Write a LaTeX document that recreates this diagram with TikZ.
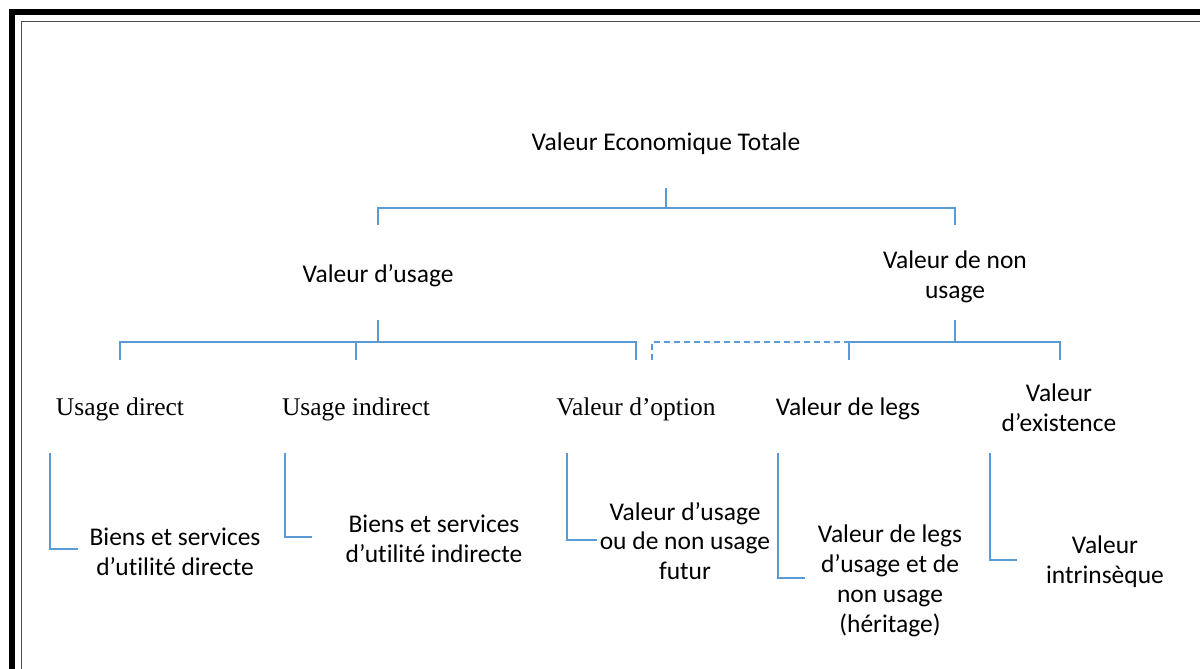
\documentclass[tikz,border=0pt]{standalone}
\usepackage{fontspec}
\setmainfont{Carlito}[Ligatures=NoCommon]
\newfontfamily\serifnom{Liberation Serif}
\usetikzlibrary{calc}

\tikzset{
  link/.style={draw=linkblue,line width=0.85pt},
  lbl/.style={align=center,inner sep=0pt,font=\fontsize{14.5}{17}\selectfont},
  lblserif/.style={lbl,font=\fontsize{14.5}{17}\selectfont\serifnom}
}
\definecolor{linkblue}{RGB}{91,155,213}
\definecolor{framegray}{RGB}{80,80,80}

\begin{document}
\begin{tikzpicture}[x=0.02cm,y=-0.02cm]
    % page and frame
    \useasboundingbox (0,0) rectangle (1200,669);
    \fill[white] (0,0) rectangle (1200,669);
    \begin{scope}
      \clip (0,0) rectangle (1200,669);
      \draw[line width=3.4pt] (12,12) rectangle (1240,720);
      \draw[framegray,line width=1.1pt] (21.5,21.5) rectangle (1230,710);
    \end{scope}

    % level 1 and 2
    \node (vet) at (666,144) [lbl]{Valeur Economique Totale};
    \node (vu) at (378,276) [lbl]{Valeur d’usage};
    \node (vnu) at (955,277) [lbl]{Valeur de non\\usage};

    % level 3
    \node (ud) at (120,409) [lblserif]{Usage direct};
    \node (ui) at (356,409) [lblserif]{Usage indirect};
    \node (vo) at (636,409) [lblserif]{Valeur d’option};
    \node (vl) at (848,409) [lbl]{Valeur de legs};
    \node (ve) at (1059,408) [lbl]{Valeur\\d’existence};

    % level 4
    \node (bsd) at (175,552) [lbl]{Biens et services\\d’utilité directe};
    \node (bsi) at (434,539) [lbl]{Biens et services\\d’utilité indirecte};
    \node (vuf) at (685,541) [lbl]{Valeur d’usage\\ou de non usage\\futur};
    \node (vlh) at (890,581) [lbl]{Valeur de legs\\d’usage et de\\non usage\\(héritage)};
    \node (vin) at (1105,562) [lbl]{Valeur\\intrinsèque};

    % tree
    \coordinate (vet-out) at (666,188);
    \coordinate (vu-in) at (378,225);
    \coordinate (vnu-in) at (955,225);
    \draw[link] (vet-out) -- ++(0,20) coordinate (j0);
    \draw[link] (vu-in) |- (j0) -| (vnu-in);

    \coordinate (vu-out) at (378,320);
    \draw[link] (vu-out) -- ++(0,22) coordinate (j1);
    \foreach \name/\x in {ud/120,ui/356,vo/636}
      \coordinate (\name-in) at (\x,360);
    \draw[link] (ud-in) |- (j1) -| (vo-in);
    \draw[link] (j1 -| ui-in) -- (ui-in);

    \coordinate (vnu-out) at (955,320);
    \draw[link] (vnu-out) -- ++(0,22) coordinate (j2);
    \foreach \name/\x in {vl/849,ve/1060,vod/652}
      \coordinate (\name-in) at (\x,360);
    \draw[link] (vl-in) |- (j2) -| (ve-in);
    \draw[link,dash pattern=on 3.4pt off 2.3pt] (vod-in) |- (vl-in |- j2);

    % brackets
    \foreach \x/\y/\e in {50/549/78, 285/537/312, 567/540/597, 778/578/805, 990/560/1017}{
      \coordinate (b\x) at (\x,453);
      \draw[link] (b\x) |- (\e,\y);
    }
\end{tikzpicture}
\end{document}
